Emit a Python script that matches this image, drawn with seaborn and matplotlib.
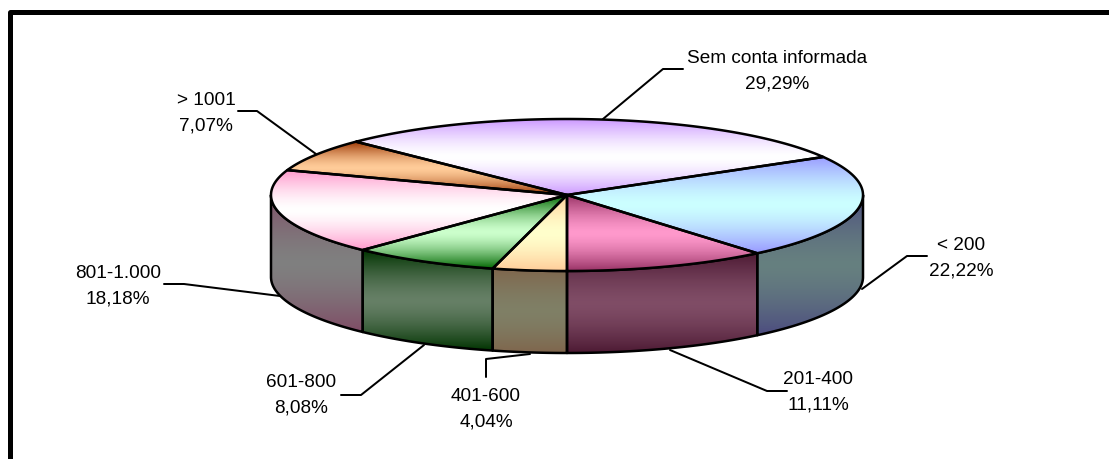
import numpy as np
import matplotlib
matplotlib.use("Agg")
import matplotlib.pyplot as plt
from matplotlib.colors import to_rgb
from matplotlib.patches import Polygon
import seaborn as sns

# clockwise starting from the slice at the back of the pie
categories = ["Sem conta informada", "< 200", "201-400", "401-600", "601-800", "801-1.000", "> 1001"]
values = [29.29, 22.22, 11.11, 4.04, 8.08, 18.18, 7.07]
value_labels = ["29,29%", "22,22%", "11,11%", "4,04%", "8,08%", "18,18%", "7,07%"]

edge_colors = ["#CC99FF", "#9999FF", "#993366", "#FFCC99", "#006600", "#FF99CC", "#993300"]
mid_colors = ["#FFFFFF", "#CCFFFF", "#FF99CC", "#FFFFCC", "#CCFFCC", "#FFFFFF", "#FFCC99"]

# layout in pixels
cx, cy = 567, 196
rx, ry = 296, 76
depth = 82
label_pos = [(777, 71), (961, 258), (818, 392), (486, 409), (301, 395), (118, 286), (206, 113)]
leaders = [
    [(683, 70), (663, 70), (603, 120)],
    [(927, 257), (907, 257), (862, 290)],
    [(787, 392), (767, 392), (670, 351)],
    [(486, 378), (486, 360), (530, 355)],
    [(341, 396), (361, 396), (424, 346)],
    [(164, 285), (184, 285), (280, 297)],
    [(238, 112), (257, 112), (316, 155)],
]

sns.set_theme(style="white")
plt.rcParams["font.family"] = ["Liberation Sans", "DejaVu Sans"]

fig = plt.figure(figsize=(11.09, 4.6), dpi=100)
ax = fig.add_axes([0, 0, 1, 1])
ax.axis("off")

px = 0.72  # one pixel in points


def ellipse(angles, dy=0):
    rad = np.radians(angles)
    return np.column_stack([cx + rx * np.cos(rad), cy - ry * np.sin(rad) + dy])


def fill_gradient(points, edge, mid, zorder):
    # vertical mirror gradient, clipped to the shape
    cmap = sns.blend_palette([edge, mid, edge], n_colors=256, as_cmap=True)
    x0, y0 = points.min(axis=0)
    x1, y1 = points.max(axis=0)
    s = np.linspace(-1, 1, 256)
    grad = (0.5 + 0.5 * np.sign(s) * np.abs(s) ** 1.5).reshape(-1, 1)
    im = ax.imshow(grad, cmap=cmap, extent=[x0, x1, y1, y0], aspect="auto",
                   origin="upper", zorder=zorder, interpolation="bilinear")
    outline = Polygon(points, closed=True, fill=False, edgecolor="black",
                      linewidth=2.5 * px, joinstyle="round", zorder=zorder + 0.5)
    ax.add_patch(outline)
    im.set_clip_path(outline)


# the third slice ends straight at the bottom
shares = np.array(values) / sum(values) * 360
ends = -90 - np.cumsum(shares) + np.cumsum(shares)[2]
starts = ends + shares

for i in range(len(values)):
    a, b = starts[i], ends[i]
    top = np.vstack([[cx, cy], ellipse(np.linspace(a, b, 120))])

    # wall only on the front half of the pie
    wall_a, wall_b = min(a, 0), max(b, -180)
    if wall_a > wall_b:
        arc = np.linspace(wall_a, wall_b, 120)
        wall = np.vstack([ellipse(arc), ellipse(arc[::-1], depth)])
        fill_gradient(wall, np.array(to_rgb(edge_colors[i])) * 0.5,
                      np.array(to_rgb(mid_colors[i])) * 0.5, 2)

    fill_gradient(top, edge_colors[i], mid_colors[i], 3)

for i, cat in enumerate(categories):
    ax.text(label_pos[i][0], label_pos[i][1], f"{cat}\n{value_labels[i]}", ha="center", va="center",
            fontsize=13.7, color="black", linespacing=1.66, zorder=6)
    pts = np.array(leaders[i])
    ax.plot(pts[:, 0], pts[:, 1], color="black", lw=2 * px, zorder=1)

# frame is cut off on the right and at the bottom
ax.plot([9.5, 9.5, 1115], [470, 12.5, 12.5], color="black", lw=5 * px,
        solid_joinstyle="round", zorder=5)

ax.set_xlim(0, 1109)
ax.set_ylim(460, 0)
fig.savefig("out.png", dpi=100, facecolor="white")
